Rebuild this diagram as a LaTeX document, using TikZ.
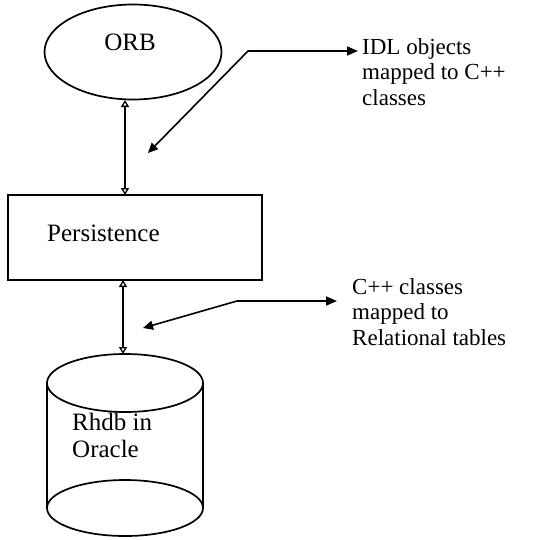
\documentclass[tikz,border=0pt]{standalone}
\usepackage{fontspec}
\setmainfont{Liberation Serif}
\usetikzlibrary{arrows.meta,shapes.geometric}

\tikzset{
  outline/.style={draw, line width=1.7pt},
  label/.style={font=\fontsize{25pt}{27pt}\selectfont, inner sep=0pt, align=left},
  notetext/.style={font=\fontsize{23pt}{25.5pt}\selectfont, inner sep=0pt, align=left},
  link/.style={line width=1.3pt, {Triangle[open,width=8pt,length=7pt]}-{Triangle[open,width=8pt,length=7pt]}},
  note/.style={line width=1.6pt, {Triangle[width=9pt,length=10pt]}-{Triangle[width=9pt,length=11pt]}}
}

\begin{document}
\begin{tikzpicture}[x=1pt,y=-1pt]
  \useasboundingbox (0,0) rectangle (543,539);

  % ORB
  \node[outline, ellipse, minimum width=177pt, minimum height=95pt, inner sep=0pt] (orb) at (133,52) {};
  \node[label] (orbtext) at (130,42) {ORB};

  % Persistence layer
  \node[outline, rectangle, minimum width=254pt, minimum height=85pt, inner sep=0pt] (box) at (135,237.5) {};
  \node[label, anchor=west] (boxtext) at (47,233) {Persistence};

  % Database cylinder
  \draw[line width=1.7pt] (47,383) -- (47,508);
  \draw[line width=1.7pt] (203,383) -- (203,508);
  \draw[line width=1.7pt] (125,383) ellipse [x radius=78, y radius=29];
  \draw[line width=1.7pt] (125,508) ellipse [x radius=78, y radius=28];
  \node[label, anchor=north west] (dbtext) at (72,413) {Rhdb in\\Oracle};

  % Connection points
  \coordinate (orbpin) at (125,100);
  \coordinate (boxtop) at (125,195);
  \coordinate (boxbot) at (123,280);
  \coordinate (dbtop) at (123,354);

  \draw[link] (orbpin) -- (boxtop);
  \draw[link] (boxbot) -- (dbtop);

  % Annotations
  \node[notetext, anchor=north west] (idl) at (362,38) {IDL objects\\mapped to C++\\classes};
  \node[notetext, anchor=north west] (rel) at (352,278) {C++ classes\\mapped to\\Relational tables};

  \coordinate (upin) at (148,153);
  \coordinate (ubend) at (248,51);
  \coordinate (utip) at (358,51);
  \coordinate (lpin) at (143,328);
  \coordinate (lbend) at (237,301);
  \coordinate (ltip) at (337,301);

  \draw[note] (upin) -- (ubend) -- (utip);
  \draw[note] (lpin) -- (lbend) -- (ltip);
\end{tikzpicture}
\end{document}
